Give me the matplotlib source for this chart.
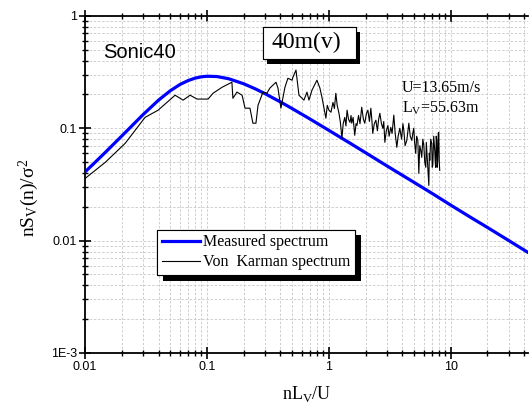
import numpy as np
import matplotlib
matplotlib.use("Agg")
import matplotlib.pyplot as plt
from matplotlib.ticker import FixedLocator, LogLocator, FixedFormatter, NullFormatter
from matplotlib.patches import Rectangle
import matplotlib.patheffects as pe

# reduced frequency nL/U and normalised spectrum nS(n)/sigma^2
karman_f = [0.01, 0.012, 0.015, 0.02, 0.03, 0.04, 0.05, 0.06, 0.07, 0.08,
            0.09, 0.1, 0.12, 0.15, 0.2, 0.25, 0.3, 0.4, 0.5, 0.7,
            1.0, 1.5, 2.0, 3.0, 5.0, 7.0, 10.0, 15.0, 20.0, 30.0, 50.0]
karman_s = [0.041, 0.0495, 0.0627, 0.0855, 0.133, 0.178, 0.216, 0.2456, 0.266, 0.2797,
            0.2873, 0.2906, 0.289, 0.2764, 0.249, 0.224, 0.203, 0.1717, 0.1497, 0.1209,
            0.0958, 0.0734, 0.0606, 0.0462, 0.0330, 0.0264, 0.0207, 0.0158, 0.0131, 0.0100, 0.0071]

measured_f = [0.01, 0.0146, 0.0213, 0.031, 0.0397, 0.0547, 0.0636, 0.0726, 0.0828, 0.102,
              0.112, 0.133, 0.160, 0.163, 0.176, 0.194, 0.205, 0.225, 0.238, 0.252,
              0.262, 0.288, 0.310, 0.328, 0.368, 0.382, 0.404, 0.436, 0.461, 0.498,
              0.507, 0.537, 0.568, 0.601, 0.624, 0.661, 0.686, 0.726, 0.798, 0.844,
              0.877, 0.945, 0.97, 1.0, 1.04, 1.08, 1.11, 1.14, 1.17, 1.21,
              1.24, 1.28, 1.31, 1.35, 1.38, 1.41, 1.45, 1.49, 1.52, 1.54,
              1.58, 1.63, 1.67, 1.70, 1.75, 1.80, 1.86, 1.92, 1.97, 2.03,
              2.09, 2.15, 2.21, 2.25, 2.29, 2.36, 2.43, 2.50, 2.56, 2.62,
              2.70, 2.77, 2.82, 2.88, 2.96, 3.05, 3.12, 3.22, 3.30, 3.41,
              3.50, 3.61, 3.70, 3.82, 3.95, 4.05, 4.12, 4.22, 4.36, 4.45,
              4.53, 4.65, 4.79, 4.88, 4.97, 5.05, 5.16, 5.25, 5.37, 5.47,
              5.57, 5.68, 5.78, 5.90, 6.01, 6.12, 6.24, 6.30, 6.36, 6.48,
              6.61, 6.67, 6.73, 6.85, 6.98, 7.05, 7.12, 7.25, 7.39, 7.46,
              7.53, 7.60, 7.68, 7.75, 7.82, 7.90, 7.97, 8.05, 8.12]
measured_s = [0.0358, 0.0497, 0.0735, 0.125, 0.145, 0.197, 0.178, 0.197, 0.182, 0.182,
              0.205, 0.232, 0.257, 0.185, 0.210, 0.197, 0.151, 0.151, 0.111, 0.111,
              0.160, 0.210, 0.205, 0.228, 0.257, 0.228, 0.151, 0.232, 0.279, 0.268,
              0.285, 0.330, 0.197, 0.185, 0.178, 0.210, 0.178, 0.218, 0.268, 0.228,
              0.189, 0.123, 0.160, 0.145, 0.139, 0.170, 0.150, 0.205, 0.160, 0.136,
              0.115, 0.0814, 0.110, 0.125, 0.105, 0.145, 0.120, 0.113, 0.130, 0.111,
              0.125, 0.0866, 0.110, 0.106, 0.130, 0.110, 0.154, 0.120, 0.111, 0.135,
              0.145, 0.115, 0.151, 0.120, 0.0902, 0.110, 0.118, 0.095, 0.120, 0.136,
              0.110, 0.100, 0.115, 0.075, 0.095, 0.106, 0.085, 0.102, 0.090, 0.131,
              0.090, 0.0677, 0.085, 0.100, 0.080, 0.110, 0.096, 0.070, 0.0781, 0.095,
              0.111, 0.085, 0.0781, 0.090, 0.100, 0.075, 0.0598, 0.085, 0.0781, 0.0397,
              0.070, 0.0636, 0.0551, 0.080, 0.0705, 0.050, 0.0449, 0.075, 0.0636, 0.045,
              0.031, 0.060, 0.0518, 0.080, 0.0735, 0.045, 0.0467, 0.085, 0.0636, 0.050,
              0.0449, 0.085, 0.0781, 0.045, 0.0518, 0.090, 0.0921, 0.050, 0.0422]

x_ticks = [0.01, 0.1, 1, 10]
x_labels = ["0.01", "0.1", "1", "10"]
y_ticks = [1e-3, 1e-2, 1e-1, 1]
y_labels = ["1E-3", "0.01", "0.1", "1"]

fig = plt.figure(figsize=(5.29, 4.09), dpi=100)
ax = fig.add_axes([0.161, 0.137, 0.837, 0.824])

ax.plot(karman_f, karman_s, color="#0000ff", lw=2.3, label="Measured spectrum", zorder=3)
ax.plot(measured_f, measured_s, color="black", lw=0.8, label="Von  Karman spectrum", zorder=4)

ax.set_xscale("log")
ax.set_yscale("log")
ax.set_xlim(0.01, 43)
ax.set_ylim(1e-3, 1)

ax.xaxis.set_major_locator(FixedLocator(x_ticks))
ax.xaxis.set_major_formatter(FixedFormatter(x_labels))
ax.yaxis.set_major_locator(FixedLocator(y_ticks))
ax.yaxis.set_major_formatter(FixedFormatter(y_labels))
ax.xaxis.set_minor_locator(LogLocator(base=10, subs=np.arange(2, 10)))
ax.yaxis.set_minor_locator(LogLocator(base=10, subs=np.arange(2, 10)))
ax.xaxis.set_minor_formatter(NullFormatter())
ax.yaxis.set_minor_formatter(NullFormatter())

ax.grid(True, which="both", color="#c8c8c8", ls=(0, (3, 2)), lw=0.6)
ax.set_axisbelow(True)

for side in ["left", "bottom", "top"]:
    ax.spines[side].set_linewidth(1.3)
ax.spines["right"].set_visible(False)

ax.tick_params(axis="both", which="major", direction="inout", length=8, width=1.2,
               labelsize=9, pad=2)
ax.tick_params(axis="both", which="minor", direction="inout", length=5, width=1.0)
ax.tick_params(axis="x", which="both", top=True, labeltop=False)
for lab in ax.get_xticklabels() + ax.get_yticklabels():
    lab.set_fontfamily("Liberation Sans")

serif = "Liberation Serif"
ax.set_xlabel(r"nL$_\mathregular{V}$/U", fontfamily=serif, fontsize=13, labelpad=8)
ax.set_ylabel(r"nS$_\mathregular{V}$(n)/$\mathregular{\sigma^2}$", fontfamily=serif,
              fontsize=14, labelpad=2)
ax.yaxis.set_label_coords(-0.10, 0.46)

ax.text(0.04, 0.893, "Sonic40", transform=ax.transAxes, fontsize=14.5,
        fontfamily="Liberation Sans", va="center", ha="left")

# boxed station tag with a solid drop shadow
tag_box = Rectangle((0.402, 0.872), 0.21, 0.095, transform=ax.transAxes,
                    fc="white", ec="black", lw=0.8, zorder=6)
tag_box.set_path_effects(
    [pe.withSimplePatchShadow(offset=(3, -3.5), shadow_rgbFace="black", alpha=1.0), pe.Normal()])
ax.add_patch(tag_box)
ax.text(0.5, 0.92, "40m(v)", transform=ax.transAxes, fontsize=17,
        fontfamily=serif, va="center", ha="center", zorder=7)

ax.text(0.715, 0.785, "U=13.65m/s", transform=ax.transAxes, fontsize=11.5,
        fontfamily=serif, va="center", ha="left")
ax.text(0.715, 0.725, r"L$_\mathregular{V}$=55.63m", transform=ax.transAxes, fontsize=11.5,
        fontfamily=serif, va="center", ha="left")

leg = ax.legend(loc="upper left", bbox_to_anchor=(0.163, 0.366), borderaxespad=0,
                fancybox=False, framealpha=1, edgecolor="black",
                prop={"family": serif, "size": 11.5}, handlelength=2.4,
                handletextpad=0.15, borderpad=0.3, labelspacing=0.25)
leg.get_frame().set_linewidth(0.8)
leg.get_frame().set_path_effects(
    [pe.withSimplePatchShadow(offset=(4, -4), shadow_rgbFace="black", alpha=1.0), pe.Normal()])
leg.set_zorder(6)

fig.savefig("out.png", dpi=100)
